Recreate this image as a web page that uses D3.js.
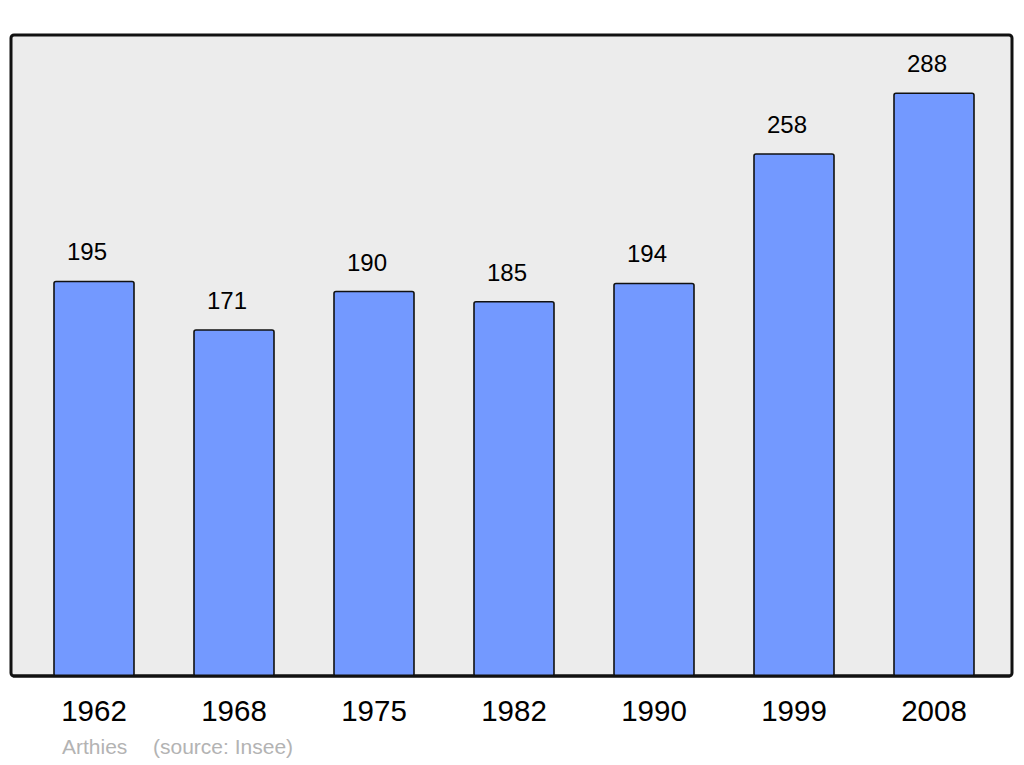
<!DOCTYPE html>
<html lang="fr">
<head>
  <meta charset="UTF-8">
  <title>Arthies - population</title>
  <script src="https://d3js.org/d3.v7.min.js"></script>
  <style>
    body { margin: 0; background: #fff; font-family: "Liberation Sans", Arial, sans-serif; }
    .value { font-size: 24px; fill: #000; }
    .year { font-size: 29.5px; fill: #000; }
    .source { font-size: 21px; fill: #b3b3b3; }
  </style>
</head>
<body>
  <svg id="chart" width="1024" height="765"></svg>
  <script>
    const years = ["1962", "1968", "1975", "1982", "1990", "1999", "2008"];
    const population = [195, 171, 190, 185, 194, 258, 288];
    const commune = "Arthies";
    const sourceLabel = "(source: Insee)";

    const svg = d3.select("#chart");
    const panel = {left: 11, top: 35, right: 1012, bottom: 676};

    const x = d3.scaleBand()
      .domain(years)
      .range([54, 974])
      .paddingInner(60 / 140)
      .paddingOuter(0);

    const y = d3.scaleLinear()
      .domain([0, d3.max(population) * 1.1])
      .range([panel.bottom, panel.top]);

    // background panel
    svg.append("rect")
      .attr("x", panel.left)
      .attr("y", panel.top)
      .attr("width", panel.right - panel.left)
      .attr("height", panel.bottom - panel.top)
      .attr("rx", 3)
      .attr("fill", "#ececec")
      .attr("stroke", "#111")
      .attr("stroke-width", 3);

    const data = years.map((year, i) => ({year, value: population[i]}));

    svg.selectAll(".bar")
      .data(data)
      .enter()
      .append("rect")
      .attr("class", "bar")
      .attr("x", d => x(d.year))
      .attr("y", d => y(d.value))
      .attr("width", x.bandwidth())
      .attr("height", d => y(0) - y(d.value))
      .attr("rx", 2)
      .attr("fill", "#7399ff")
      .attr("stroke", "#111")
      .attr("stroke-width", 1.6);

    // redraw bottom border on top of bars
    svg.append("line")
      .attr("x1", panel.left + 2)
      .attr("x2", panel.right - 2)
      .attr("y1", panel.bottom)
      .attr("y2", panel.bottom)
      .attr("stroke", "#111")
      .attr("stroke-width", 3);

    svg.selectAll(".value")
      .data(data)
      .enter()
      .append("text")
      .attr("class", "value")
      .attr("x", d => x(d.year) + x.bandwidth() / 2 - 7)
      .attr("y", d => y(d.value) - 21)
      .attr("text-anchor", "middle")
      .text(d => d.value);

    svg.selectAll(".year")
      .data(data)
      .enter()
      .append("text")
      .attr("class", "year")
      .attr("x", d => x(d.year) + x.bandwidth() / 2)
      .attr("y", 721)
      .attr("text-anchor", "middle")
      .text(d => d.year);

    svg.append("text")
      .attr("class", "source")
      .attr("x", 62)
      .attr("y", 754)
      .text(commune);

    svg.append("text")
      .attr("class", "source")
      .attr("x", 153)
      .attr("y", 754)
      .text(sourceLabel);
  </script>
</body>
</html>
